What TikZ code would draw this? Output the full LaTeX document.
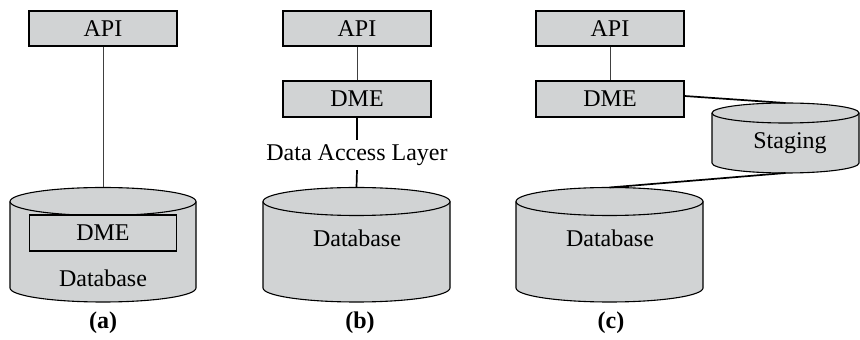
\documentclass[tikz,border=0pt]{standalone}
\usepackage{fontspec}
\setmainfont{Liberation Serif}
\definecolor{boxgray}{RGB}{209,211,212}
\newcommand\dbcyl[5]{% cx, top cy, bottom cy, rx, ry
  \filldraw[cylline] ({#1-#4},#2) -- ({#1-#4},#3) arc[start angle=180,end angle=360,x radius=#4,y radius=#5] -- ({#1+#4},#2) arc[start angle=0,end angle=180,x radius=#4,y radius=#5] -- cycle;
  \draw[line width=1.1pt] ({#1-#4},#2) arc[start angle=180,end angle=360,x radius=#4,y radius=#5];
}
\begin{document}
\begin{tikzpicture}[x=1pt,y=1pt,
  box/.style={draw=black, fill=boxgray, line width=1.1pt, minimum width=148pt, minimum height=35pt, inner sep=0pt, font=\fontsize{24}{27}\selectfont},
  lbl/.style={font=\fontsize{24}{27}\selectfont, inner sep=0pt},
  panelcap/.style={font=\fontsize{24}{27}\selectfont\bfseries, inner sep=0pt},
  thinlink/.style={draw=black!75, line width=0.9pt},
  thicklink/.style={draw=black, line width=1.7pt},
  cylline/.style={draw=black, fill=boxgray, line width=1.1pt}]
\useasboundingbox (0,0) rectangle (860,340);

% cylinders
\dbcyl{103}{138.5}{52}{93}{14}
\dbcyl{356.5}{138.5}{52}{93.5}{14}
\dbcyl{609.5}{138.5}{52}{93.5}{14}
\dbcyl{785.5}{227}{177}{73.5}{10}

\coordinate (dbAtop) at (103,152.5);
\coordinate (dbBtop) at (356.5,152.5);
\coordinate (dbCtop) at (609.5,152.5);
\coordinate (stgTop) at (785.5,237);
\coordinate (stgBot) at (785.5,167);

% panel (a)
\node[box] (apiA) at (103,311.5) {API};
\node[box, minimum width=147pt, minimum height=36pt] (dmeA) at (103,107) {DME};
\node[lbl] (dbA) at (103,62) {Database};
\node[panelcap] (capA) at (103,17) {(a)};
\draw[thinlink] (apiA.south) -- (dbAtop);

% panel (b)
\node[box] (apiB) at (357,311.5) {API};
\node[box, minimum height=36pt] (dmeB) at (357,241) {DME};
\node[lbl, minimum height=30pt] (dal) at (357,185) {Data Access Layer};
\node[lbl] (dbB) at (357,102) {Database};
\node[panelcap] (capB) at (360,17) {(b)};
\draw[thinlink] (apiB.south) -- (dmeB.north);
\draw[thicklink] (dmeB.south) -- (dal.north);
\draw[thicklink] (dal.south) -- (dbBtop);

% panel (c)
\node[box] (apiC) at (610,311.5) {API};
\node[box, minimum height=36pt] (dmeC) at (610,241) {DME};
\node[lbl] (stg) at (790,197) {Staging};
\node[lbl] (dbC) at (610,102) {Database};
\node[panelcap] (capC) at (611,17) {(c)};
\draw[thinlink] (apiC.south) -- (dmeC.north);
\draw[thicklink] ([yshift=3pt]dmeC.east) -- (stgTop);
\draw[thicklink] (stgBot) -- (dbCtop);
\end{tikzpicture}
\end{document}
